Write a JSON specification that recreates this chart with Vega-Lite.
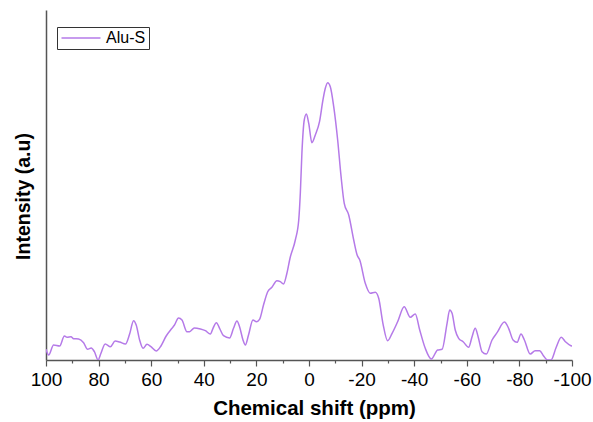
{
  "$schema": "https://vega.github.io/schema/vega-lite/v6.json",
  "width": 526,
  "height": 350,
  "autosize": {"type": "none"},
  "padding": {"left": 46, "top": 10, "right": 21, "bottom": 62},
  "background": "white",
  "config": {
    "view": {"stroke": null},
    "font": "Liberation Sans"
  },
  "data": {
    "values": [
      {"shift": 100, "intensity": 10.7, "sample": "Alu-S"},
      {"shift": 99, "intensity": 5, "sample": "Alu-S"},
      {"shift": 97.1, "intensity": 15, "sample": "Alu-S"},
      {"shift": 94.8, "intensity": 14, "sample": "Alu-S"},
      {"shift": 93, "intensity": 24, "sample": "Alu-S"},
      {"shift": 92, "intensity": 22.7, "sample": "Alu-S"},
      {"shift": 90.5, "intensity": 23.3, "sample": "Alu-S"},
      {"shift": 89.5, "intensity": 21.3, "sample": "Alu-S"},
      {"shift": 87.6, "intensity": 21, "sample": "Alu-S"},
      {"shift": 85.7, "intensity": 17.3, "sample": "Alu-S"},
      {"shift": 84.2, "intensity": 10.7, "sample": "Alu-S"},
      {"shift": 82.8, "intensity": 12, "sample": "Alu-S"},
      {"shift": 81.6, "intensity": 8.3, "sample": "Alu-S"},
      {"shift": 80.2, "intensity": 0, "sample": "Alu-S"},
      {"shift": 79.1, "intensity": 6.7, "sample": "Alu-S"},
      {"shift": 77.5, "intensity": 16, "sample": "Alu-S"},
      {"shift": 75.5, "intensity": 13.3, "sample": "Alu-S"},
      {"shift": 73.7, "intensity": 19, "sample": "Alu-S"},
      {"shift": 72, "intensity": 18, "sample": "Alu-S"},
      {"shift": 69.8, "intensity": 16, "sample": "Alu-S"},
      {"shift": 68.2, "intensity": 26, "sample": "Alu-S"},
      {"shift": 66.7, "intensity": 39.3, "sample": "Alu-S"},
      {"shift": 65.7, "intensity": 35, "sample": "Alu-S"},
      {"shift": 64.4, "intensity": 20, "sample": "Alu-S"},
      {"shift": 63.1, "intensity": 11.7, "sample": "Alu-S"},
      {"shift": 61.6, "intensity": 15.7, "sample": "Alu-S"},
      {"shift": 60.1, "intensity": 13.3, "sample": "Alu-S"},
      {"shift": 58.1, "intensity": 9, "sample": "Alu-S"},
      {"shift": 56.3, "intensity": 14, "sample": "Alu-S"},
      {"shift": 54.3, "intensity": 24, "sample": "Alu-S"},
      {"shift": 52.1, "intensity": 31.7, "sample": "Alu-S"},
      {"shift": 51.2, "intensity": 34.7, "sample": "Alu-S"},
      {"shift": 49.6, "intensity": 42, "sample": "Alu-S"},
      {"shift": 48.3, "intensity": 40, "sample": "Alu-S"},
      {"shift": 46.4, "intensity": 28.3, "sample": "Alu-S"},
      {"shift": 45.4, "intensity": 28.3, "sample": "Alu-S"},
      {"shift": 43.6, "intensity": 32, "sample": "Alu-S"},
      {"shift": 41.3, "intensity": 31, "sample": "Alu-S"},
      {"shift": 39.4, "intensity": 29.3, "sample": "Alu-S"},
      {"shift": 37.5, "intensity": 26, "sample": "Alu-S"},
      {"shift": 36.5, "intensity": 31.7, "sample": "Alu-S"},
      {"shift": 35.2, "intensity": 37.3, "sample": "Alu-S"},
      {"shift": 34, "intensity": 31.7, "sample": "Alu-S"},
      {"shift": 32.5, "intensity": 24.3, "sample": "Alu-S"},
      {"shift": 30.2, "intensity": 22, "sample": "Alu-S"},
      {"shift": 28.7, "intensity": 31.7, "sample": "Alu-S"},
      {"shift": 27.4, "intensity": 39, "sample": "Alu-S"},
      {"shift": 26.4, "intensity": 33.3, "sample": "Alu-S"},
      {"shift": 25.1, "intensity": 20, "sample": "Alu-S"},
      {"shift": 24.2, "intensity": 15, "sample": "Alu-S"},
      {"shift": 23, "intensity": 25, "sample": "Alu-S"},
      {"shift": 21.3, "intensity": 40, "sample": "Alu-S"},
      {"shift": 20, "intensity": 38.3, "sample": "Alu-S"},
      {"shift": 18.8, "intensity": 40.7, "sample": "Alu-S"},
      {"shift": 17.3, "intensity": 55, "sample": "Alu-S"},
      {"shift": 15.7, "intensity": 68.3, "sample": "Alu-S"},
      {"shift": 14.1, "intensity": 72.7, "sample": "Alu-S"},
      {"shift": 12.2, "intensity": 79.3, "sample": "Alu-S"},
      {"shift": 10.9, "intensity": 78.3, "sample": "Alu-S"},
      {"shift": 9.7, "intensity": 76, "sample": "Alu-S"},
      {"shift": 8.4, "intensity": 86.7, "sample": "Alu-S"},
      {"shift": 7.2, "intensity": 102, "sample": "Alu-S"},
      {"shift": 5.2, "intensity": 120, "sample": "Alu-S"},
      {"shift": 3.9, "intensity": 140, "sample": "Alu-S"},
      {"shift": 3.3, "intensity": 166.7, "sample": "Alu-S"},
      {"shift": 2.7, "intensity": 206.7, "sample": "Alu-S"},
      {"shift": 1.8, "intensity": 240, "sample": "Alu-S"},
      {"shift": 1.0, "intensity": 246, "sample": "Alu-S"},
      {"shift": 0.1, "intensity": 236.7, "sample": "Alu-S"},
      {"shift": -1.1, "intensity": 217.3, "sample": "Alu-S"},
      {"shift": -2.4, "intensity": 225, "sample": "Alu-S"},
      {"shift": -4.0, "intensity": 238.3, "sample": "Alu-S"},
      {"shift": -5.3, "intensity": 260, "sample": "Alu-S"},
      {"shift": -6.2, "intensity": 271.7, "sample": "Alu-S"},
      {"shift": -7.1, "intensity": 277.3, "sample": "Alu-S"},
      {"shift": -8.1, "intensity": 273.3, "sample": "Alu-S"},
      {"shift": -9.4, "intensity": 253.3, "sample": "Alu-S"},
      {"shift": -10.9, "intensity": 220, "sample": "Alu-S"},
      {"shift": -12.2, "intensity": 183.3, "sample": "Alu-S"},
      {"shift": -13.4, "intensity": 156.7, "sample": "Alu-S"},
      {"shift": -15.1, "intensity": 145, "sample": "Alu-S"},
      {"shift": -17.0, "intensity": 120, "sample": "Alu-S"},
      {"shift": -18.3, "intensity": 105, "sample": "Alu-S"},
      {"shift": -19.3, "intensity": 100, "sample": "Alu-S"},
      {"shift": -21.4, "intensity": 76.7, "sample": "Alu-S"},
      {"shift": -23.3, "intensity": 66.7, "sample": "Alu-S"},
      {"shift": -25.2, "intensity": 67.7, "sample": "Alu-S"},
      {"shift": -26.5, "intensity": 61.7, "sample": "Alu-S"},
      {"shift": -28.1, "intensity": 36.7, "sample": "Alu-S"},
      {"shift": -29.9, "intensity": 19.3, "sample": "Alu-S"},
      {"shift": -31.6, "intensity": 26.7, "sample": "Alu-S"},
      {"shift": -33.7, "intensity": 38.3, "sample": "Alu-S"},
      {"shift": -36.2, "intensity": 53.3, "sample": "Alu-S"},
      {"shift": -38.5, "intensity": 42.7, "sample": "Alu-S"},
      {"shift": -40.4, "intensity": 46, "sample": "Alu-S"},
      {"shift": -42.1, "intensity": 30, "sample": "Alu-S"},
      {"shift": -44.2, "intensity": 11.7, "sample": "Alu-S"},
      {"shift": -46.5, "intensity": 1, "sample": "Alu-S"},
      {"shift": -48.9, "intensity": 10, "sample": "Alu-S"},
      {"shift": -50.6, "intensity": 10.7, "sample": "Alu-S"},
      {"shift": -52.5, "intensity": 36.7, "sample": "Alu-S"},
      {"shift": -53.5, "intensity": 50, "sample": "Alu-S"},
      {"shift": -54.4, "intensity": 46.7, "sample": "Alu-S"},
      {"shift": -55.6, "intensity": 30, "sample": "Alu-S"},
      {"shift": -56.9, "intensity": 21.7, "sample": "Alu-S"},
      {"shift": -58.6, "intensity": 18.3, "sample": "Alu-S"},
      {"shift": -60.7, "intensity": 12.7, "sample": "Alu-S"},
      {"shift": -62.0, "intensity": 23.3, "sample": "Alu-S"},
      {"shift": -63.2, "intensity": 31.7, "sample": "Alu-S"},
      {"shift": -64.3, "intensity": 23.3, "sample": "Alu-S"},
      {"shift": -65.8, "intensity": 8.3, "sample": "Alu-S"},
      {"shift": -67.4, "intensity": 6, "sample": "Alu-S"},
      {"shift": -69.6, "intensity": 20, "sample": "Alu-S"},
      {"shift": -71.5, "intensity": 27.3, "sample": "Alu-S"},
      {"shift": -74.3, "intensity": 38, "sample": "Alu-S"},
      {"shift": -75.9, "intensity": 31.7, "sample": "Alu-S"},
      {"shift": -77.6, "intensity": 20, "sample": "Alu-S"},
      {"shift": -79.1, "intensity": 17.7, "sample": "Alu-S"},
      {"shift": -80.6, "intensity": 26, "sample": "Alu-S"},
      {"shift": -81.9, "intensity": 20, "sample": "Alu-S"},
      {"shift": -84.1, "intensity": 6, "sample": "Alu-S"},
      {"shift": -86.0, "intensity": 9.3, "sample": "Alu-S"},
      {"shift": -87.7, "intensity": 9.3, "sample": "Alu-S"},
      {"shift": -89.2, "intensity": 4, "sample": "Alu-S"},
      {"shift": -90.7, "intensity": 0, "sample": "Alu-S"},
      {"shift": -92.0, "intensity": 0, "sample": "Alu-S"},
      {"shift": -94.0, "intensity": 12.7, "sample": "Alu-S"},
      {"shift": -95.9, "intensity": 22.7, "sample": "Alu-S"},
      {"shift": -97.5, "intensity": 18.3, "sample": "Alu-S"},
      {"shift": -99.6, "intensity": 14.3, "sample": "Alu-S"},
      {"shift": -100, "intensity": 14, "sample": "Alu-S"}
    ]
  },
  "mark": {"type": "line", "interpolate": "monotone", "strokeWidth": 1.5, "clip": true},
  "encoding": {
    "x": {
      "field": "shift",
      "type": "quantitative",
      "scale": {"domain": [-100, 100], "reverse": true, "nice": false},
      "axis": {
        "title": "Chemical shift (ppm)",
        "titleFont": "Liberation Sans",
        "titleFontSize": 20.5,
        "titleFontWeight": "bold",
        "titleColor": "black",
        "titlePadding": 9,
        "titleX": 268,
        "values": [-100, -90, -80, -70, -60, -50, -40, -30, -20, -10, 0, 10, 20, 30, 40, 50, 60, 70, 80, 90, 100],
        "labelExpr": "datum.value % 20 === 0 ? toString(datum.value) : ''",
        "labelFont": "Liberation Sans",
        "labelFontSize": 19,
        "labelColor": "black",
        "labelPadding": 4,
        "labelFlush": false,
        "labelOverlap": false,
        "grid": false,
        "domainColor": "#555555",
        "domainWidth": 1.5,
        "tickColor": "#555555",
        "tickWidth": 1.2,
        "tickSize": {"condition": {"test": "datum.value % 20 === 0", "value": 6}, "value": 3}
      }
    },
    "y": {
      "field": "intensity",
      "type": "quantitative",
      "scale": {"domain": [0, 350], "nice": false},
      "axis": {
        "title": "Intensity (a.u)",
        "titleFont": "Liberation Sans",
        "titleFontSize": 19.5,
        "titleFontWeight": "bold",
        "titleColor": "black",
        "titlePadding": 13,
        "titleY": 186,
        "labels": false,
        "ticks": false,
        "grid": false,
        "domainColor": "#555555",
        "domainWidth": 1.5
      }
    },
    "color": {
      "field": "sample",
      "type": "nominal",
      "scale": {"range": ["#b57ae8"]},
      "legend": {
        "title": null,
        "orient": "none",
        "legendX": 11,
        "legendY": 17,
        "symbolType": "M-3,0H3",
        "symbolSize": 169,
        "symbolStrokeWidth": 1.5,
        "symbolOffset": 13,
        "labelFont": "Liberation Sans",
        "labelFontSize": 16,
        "labelColor": "black",
        "strokeColor": "#333333",
        "padding": 3,
        "labelOffset": 17
      }
    }
  }
}
